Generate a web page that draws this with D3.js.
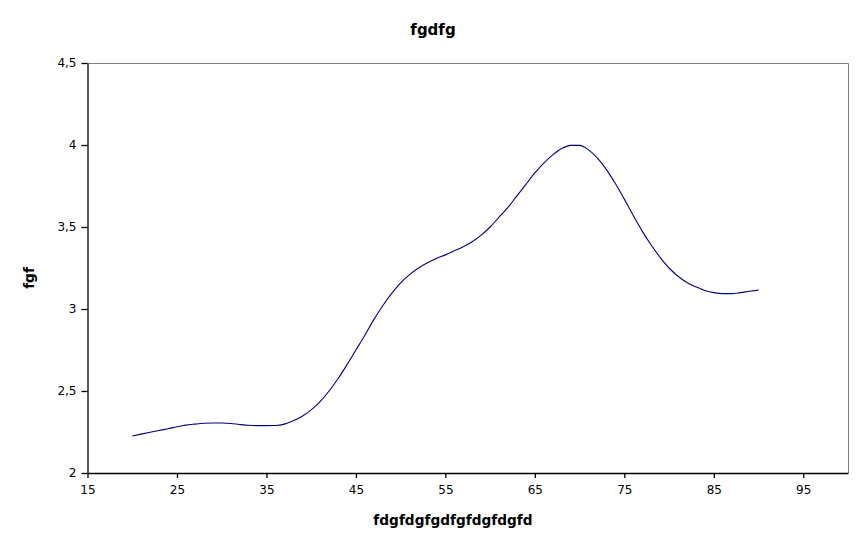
<!DOCTYPE html>
<html><head><meta charset="utf-8">
<script src="https://cdn.jsdelivr.net/npm/d3@7"></script>
<style>body{margin:0;background:#fff}svg{display:block;font-family:"DejaVu Sans",sans-serif}</style>
</head><body><svg id="c" width="867" height="548"></svg>
<script>
const xValues = [20,21,22,23,24,25,26,27,28,29,30,31,32,33,34,35,36,37,38,39,40,41,42,43,44,45,46,47,48,49,50,51,52,53,54,55,56,57,58,59,60,61,62,63,64,65,66,67,68,69,70,71,72,73,74,75,76,77,78,79,80,81,82,83,84,85,86,87,88,89,90];
const yValues = [2.226,2.237,2.248,2.259,2.27,2.282,2.292,2.298,2.303,2.305,2.305,2.302,2.296,2.291,2.289,2.289,2.29,2.298,2.318,2.346,2.385,2.435,2.5,2.575,2.66,2.75,2.84,2.935,3.02,3.095,3.16,3.21,3.25,3.282,3.308,3.33,3.355,3.38,3.41,3.45,3.5,3.56,3.62,3.69,3.76,3.83,3.89,3.94,3.978,3.998,3.998,3.97,3.92,3.85,3.765,3.67,3.57,3.475,3.39,3.315,3.25,3.2,3.162,3.135,3.113,3.1,3.094,3.094,3.1,3.108,3.115];
const xTicks = [15,25,35,45,55,65,75,85,95];
const yTicks = [2,2.5,3,3.5,4,4.5];
const title = "fgdfg", xTitle = "fdgfdgfgdfgfdgfdgfd", yTitle = "fgf";

const svg = d3.select("#c");
const L = 87.5, R = 848, T = 63, B = 473;
const x = d3.scaleLinear().domain([15,100]).range([L,R]);
const y = d3.scaleLinear().domain([2,4.5]).range([B,T]);
const fmt = d => String(d).replace(".", ",");

svg.append("path").attr("d",`M${L},${T+0.5}H${R+0.5}V${B}`).attr("fill","none").attr("stroke","#808080").attr("stroke-width",1);

const xa = svg.append("g").attr("transform",`translate(0,${B})`)
  .call(d3.axisBottom(x).tickValues(xTicks).tickFormat(fmt).tickSize(5).tickSizeOuter(0));
const ya = svg.append("g").attr("transform",`translate(${L},0)`)
  .call(d3.axisLeft(y).tickValues(yTicks).tickFormat(fmt).tickSize(6).tickSizeOuter(0));
[xa,ya].forEach(a=>{a.selectAll("path,line").attr("stroke","#000").attr("stroke-width",1.3);
  a.selectAll("text").attr("font-size",12).attr("fill","#000").attr("font-family","DejaVu Sans");});
xa.selectAll("text").attr("dy","0.71em").attr("y",12);
ya.selectAll("text").attr("x",-11);

const data = xValues.map((d,i)=>[d,yValues[i]]);
svg.append("path").datum(data).attr("fill","none").attr("stroke","#000080").attr("stroke-width",1.1)
  .attr("d", d3.line().x(d=>x(d[0])).y(d=>y(d[1])).curve(d3.curveMonotoneX));

svg.append("text").attr("x",433).attr("y",35).attr("text-anchor","middle").attr("font-size",15).attr("font-weight","bold").text(title);
svg.append("text").attr("x",453).attr("y",525).attr("text-anchor","middle").attr("font-size",13.7).attr("font-weight","bold").text(xTitle);
svg.append("text").attr("transform","translate(34,278) rotate(-90)").attr("text-anchor","middle").attr("font-size",13.7).attr("font-weight","bold").text(yTitle);
</script></body></html>
